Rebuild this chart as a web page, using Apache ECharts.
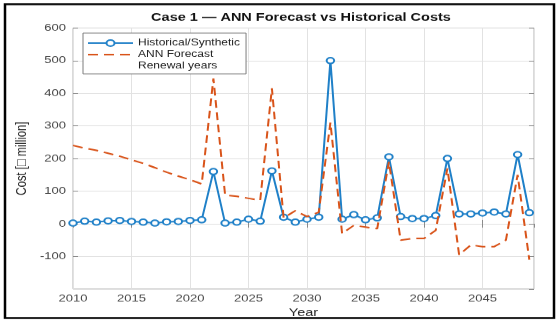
<!DOCTYPE html>
<html>
<head>
<meta charset="utf-8">
<script src="https://cdn.jsdelivr.net/npm/echarts@6/dist/echarts.min.js"></script>
<style>
  html, body { margin: 0; padding: 0; background: #fff; overflow: hidden; }
  /* the figure is laid out at 560x420 and shown squeezed to 323 px tall */
  #wrap { width: 560px; height: 420px; transform: scaleY(0.76905); transform-origin: 0 0; }
  #chart { width: 560px; height: 420px; }
</style>
</head>
<body>
<div id="wrap"><div id="chart"></div></div>
<script>
// Years on the horizontal axis
const years = [
  2010, 2011, 2012, 2013, 2014, 2015, 2016, 2017, 2018, 2019,
  2020, 2021, 2022, 2023, 2024, 2025, 2026, 2027, 2028, 2029,
  2030, 2031, 2032, 2033, 2034, 2035, 2036, 2037, 2038, 2039,
  2040, 2041, 2042, 2043, 2044, 2045, 2046, 2047, 2048, 2049
];

// Historical / synthetic cost series (million)
const historical = [
  2, 8, 5, 9, 10, 7, 5, 2, 6, 7,
  10, 12, 160, 2, 5, 14, 8, 162, 20, 5,
  14, 20, 500, 14, 28, 12, 18, 205, 22, 16,
  16, 25, 200, 30, 30, 33, 36, 30, 212, 34
];

// ANN forecast series (million)
const forecast = [
  240, 232, 225, 216, 207, 196, 185, 172, 158, 146,
  135, 122, 445, 88, 84, 78, 72, 415, 18, 40,
  22, 35, 310, -30, -5, -10, -15, 190, -50, -45,
  -45, -20, 170, -95, -65, -70, -70, -50, 150, -110
];

// Renewal years (legend entry only)
const renewalYears = [];

const xTicks = [2010, 2015, 2020, 2025, 2030, 2035, 2040, 2045];
const yTicks = [-100, 0, 100, 200, 300, 400, 500, 600];

const chart = echarts.init(document.getElementById('chart'), null, { renderer: 'canvas' });

const font = '"Liberation Sans", Arial, Helvetica, sans-serif';
const gridColor = '#e2e2e2';
const boxColor = '#b4b4b4';

const pairs = (vals) => years.map((y, i) => [y, vals[i]]);

const option = {
  backgroundColor: '#fff',
  animation: false,
  textStyle: { fontFamily: font },
  title: {
    text: 'Case 1 \u2014 ANN Forecast vs Historical Costs',
    left: 301,
    top: 15,
    padding: 0,
    textAlign: 'center',
    textStyle: { fontFamily: font, fontSize: 14.5, fontWeight: 'bold', color: '#111' }
  },
  legend: {
    orient: 'vertical',
    left: 83,
    top: 43,
    padding: [7, 6, 4, 4],
    itemWidth: 45,
    itemHeight: 10,
    itemGap: 3,
    backgroundColor: '#fff',
    borderColor: '#7d7d7d',
    borderWidth: 1,
    textStyle: { fontFamily: font, fontSize: 12, color: '#222' },
    data: [
      { name: 'Historical/Synthetic' },
      { name: 'ANN Forecast', itemStyle: { opacity: 0 } },
      { name: 'Renewal years', itemStyle: { opacity: 0 }, lineStyle: { opacity: 0 } }
    ]
  },
  grid: {
    left: 73, right: 26, top: 36.4, bottom: 44.2,
    show: true, borderColor: boxColor, borderWidth: 1, backgroundColor: '#fff'
  },
  xAxis: [{
    type: 'value',
    min: 2010, max: 2049.4, interval: 5,
    name: 'Year',
    nameLocation: 'middle',
    nameGap: 22,
    nameTextStyle: { fontFamily: font, fontSize: 14.5, color: '#262626' },
    axisLine: { show: false },
    axisTick: { show: true, inside: true, length: 5, lineStyle: { color: '#8a8a8a' } },
    axisLabel: {
      fontFamily: font, fontSize: 13, color: '#444', margin: 6,
      showMaxLabel: false,
      formatter: (v) => (xTicks.indexOf(v) >= 0 ? String(v) : '')
    },
    splitLine: { show: true, lineStyle: { color: gridColor, width: 1 } }
  }, {
    type: 'value', position: 'top',
    min: 2010, max: 2049.4, interval: 5,
    axisLine: { show: false },
    axisTick: { show: true, inside: true, length: 5, lineStyle: { color: '#8a8a8a' } },
    axisLabel: { show: false },
    splitLine: { show: false }
  }],
  yAxis: [{
    type: 'value',
    min: -200, max: 600, interval: 100,
    name: 'Cost [\u25A1 million]',
    nameLocation: 'middle',
    nameGap: 35,
    nameTextStyle: { fontFamily: font, fontSize: 14.5, color: '#262626' },
    axisLine: { show: false },
    axisTick: { show: true, inside: true, length: 5, lineStyle: { color: '#8a8a8a' } },
    axisLabel: {
      fontFamily: font, fontSize: 13, color: '#444', margin: 7,
      showMinLabel: false,
      formatter: (v) => (yTicks.indexOf(v) >= 0 ? String(v) : '')
    },
    splitLine: { show: true, lineStyle: { color: gridColor, width: 1 } }
  }, {
    type: 'value', position: 'right',
    min: -200, max: 600, interval: 100,
    axisLine: { show: false },
    axisTick: { show: true, inside: true, length: 5, lineStyle: { color: '#8a8a8a' } },
    axisLabel: { show: false },
    splitLine: { show: false }
  }],
  series: [
    {
      name: 'Historical/Synthetic',
      type: 'line',
      data: pairs(historical),
      symbol: 'emptyCircle',
      symbolSize: 7.5,
      showAllSymbol: true,
      lineStyle: { color: '#1f80c8', width: 2 },
      itemStyle: { color: '#1f80c8', borderColor: '#1f80c8', borderWidth: 1.6 },
      z: 2
    },
    {
      name: 'ANN Forecast',
      type: 'line',
      data: pairs(forecast),
      symbol: 'none',
      lineStyle: { color: '#D95319', width: 2, type: [10, 6] },
      itemStyle: { color: '#D95319' },
      z: 3
    },
    {
      name: 'Renewal years',
      type: 'line',
      data: renewalYears,
      symbol: 'none',
      lineStyle: { opacity: 0 },
      itemStyle: { opacity: 0 }
    }
  ],
  graphic: [{
    type: 'rect',
    shape: { x: 5, y: 5.5, width: 549, height: 408 },
    style: { fill: 'none', stroke: '#000', lineWidth: 2.5 },
    silent: true,
    z: 100
  }]
};

chart.setOption(option);
</script>
</body>
</html>
